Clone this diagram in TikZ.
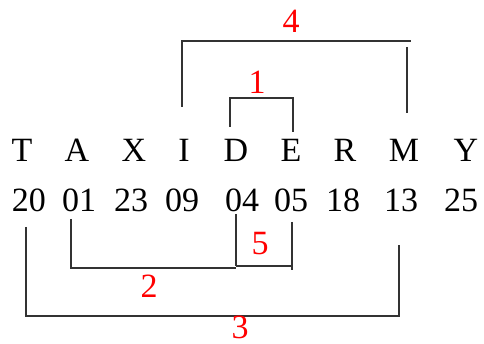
\documentclass[tikz,border=0pt]{standalone}
\usepackage{fontspec}
\setmainfont{Liberation Serif}
\begin{document}
\begin{tikzpicture}[x=1pt,y=-1pt,
  txt/.style={inner sep=0pt,anchor=base,font=\fontsize{34}{40}\selectfont},
  lbl/.style={inner sep=0pt,anchor=base,text=red,font=\fontsize{34}{40}\selectfont},
  brk/.style={line width=1.2pt,draw=black!80}]
\useasboundingbox (0,0) rectangle (484,344);
% letters
\foreach \n/\t/\x in {T/T/22, A/A/77, X/X/134, I/I/184, D/D/236, E/E/291, R/R/345, M/M/404, Y/Y/466}
  \node[txt] (\n) at (\x,162) {\t};
% numbers
\foreach \n/\t/\x in {n20/20/29, n01/01/79, n23/23/131, n09/09/182, n04/04/242, n05/05/291, n18/18/343, n13/13/401, n25/25/461}
  \node[txt] (\n) at (\x,212) {\t};
% bracket 4
\coordinate (a4) at (182,107); \coordinate (b4) at (182,41);
\coordinate (c4) at (411,41); \coordinate (d4) at (407,47); \coordinate (e4) at (407,113);
\draw[brk] (a4) -- (b4) -- (c4);
\draw[brk] (d4) -- (e4);
\node[lbl] (l4) at (291,33) {4};
% bracket 1
\coordinate (a1) at (230,127); \coordinate (b1) at (230,98);
\coordinate (c1) at (293,98); \coordinate (d1) at (293,132);
\draw[brk] (a1) -- (b1) -- (c1) -- (d1);
\node[lbl] (l1) at (257,94) {1};
% bracket 2
\coordinate (a2) at (71,219); \coordinate (b2) at (71,268); \coordinate (c2) at (236,268);
\draw[brk] (a2) -- (b2) -- (c2);
\node[lbl] (l2) at (149,298) {2};
% bracket 5
\coordinate (a5) at (236,214); \coordinate (b5) at (236,266);
\coordinate (c5) at (292,266); \coordinate (d5) at (292,222); \coordinate (e5) at (292,270);
\draw[brk] (a5) -- (b5);
\draw[brk] (b5) -- (c5);
\draw[brk] (d5) -- (e5);
\node[lbl] (l5) at (260,255) {5};
% bracket 3
\coordinate (a3) at (26,227); \coordinate (b3) at (26,316);
\coordinate (c3) at (399,316); \coordinate (d3) at (399,245);
\draw[brk] (a3) -- (b3) -- (c3) -- (d3);
\node[lbl] (l3) at (240,338) {3};
\end{tikzpicture}
\end{document}
